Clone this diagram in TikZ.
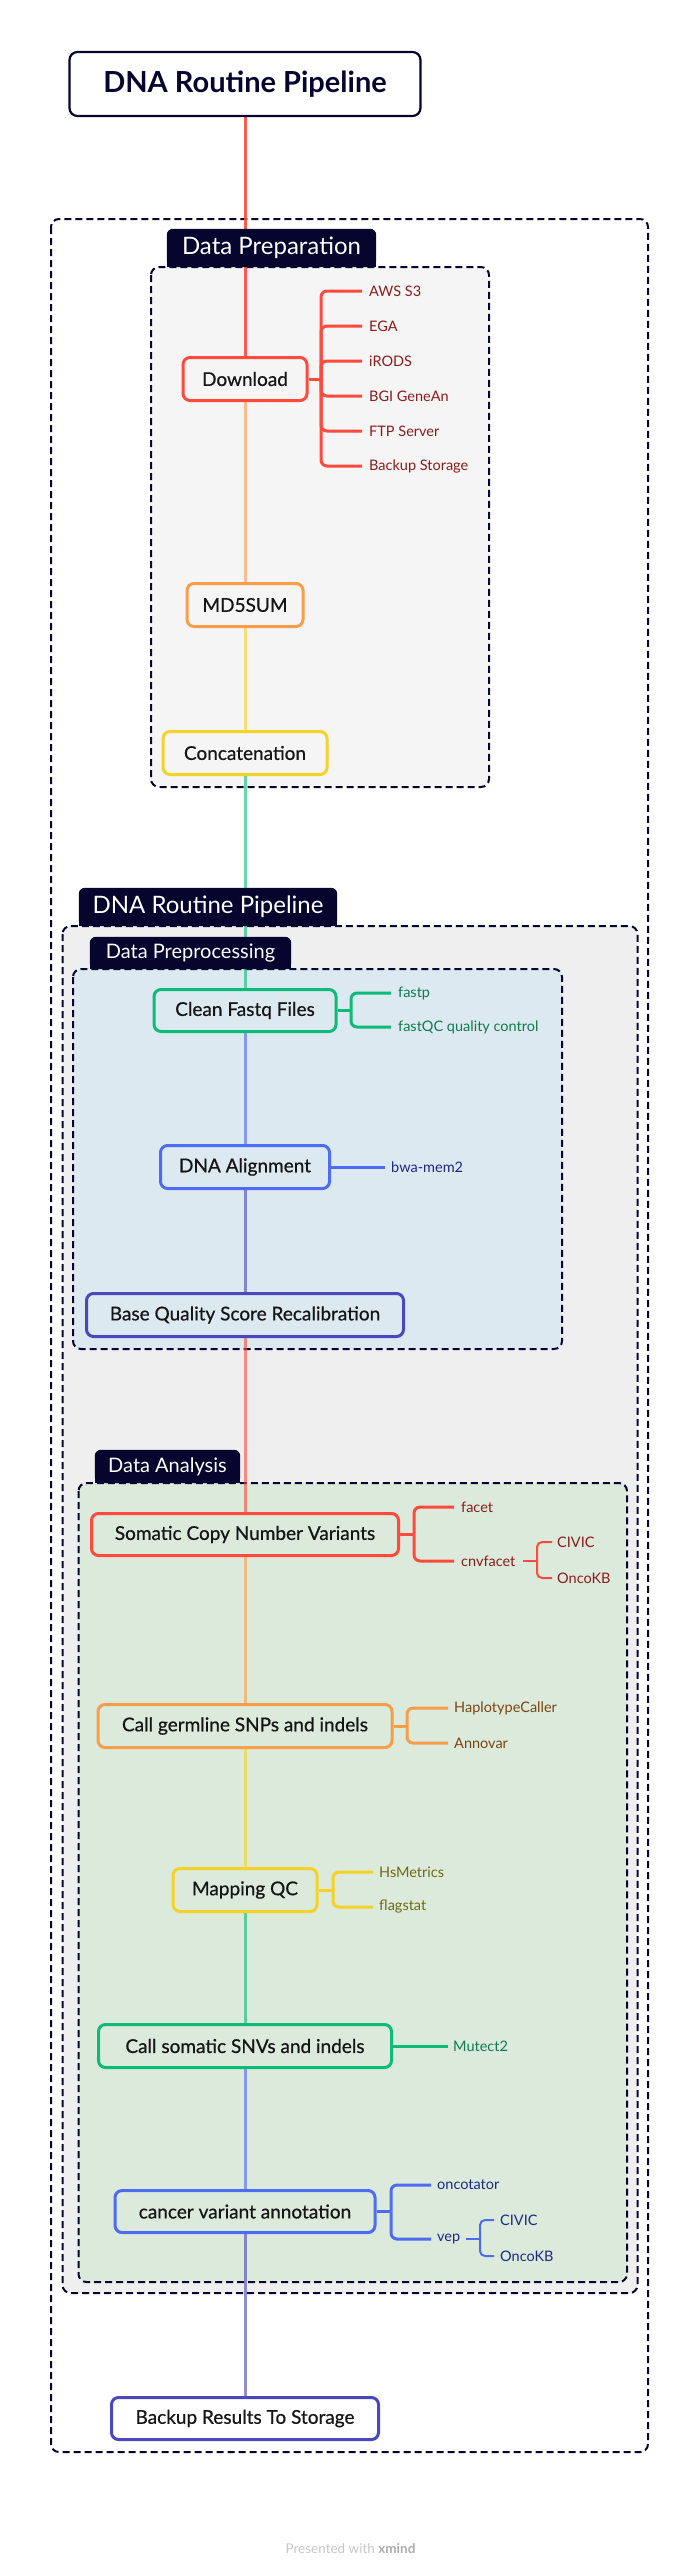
\documentclass[tikz,border=0pt]{standalone}
\usepackage{fontspec}
\setmainfont{Lato}
\newfontfamily\medfont[FakeBold=0.6]{Lato}
\usetikzlibrary{calc}
\pgfdeclarelayer{back}\pgfdeclarelayer{mid}\pgfdeclarelayer{lbl}
\pgfsetlayers{back,mid,lbl,main}
\definecolor{cRed}{HTML}{FF4A3D}
\definecolor{cOrange}{HTML}{F89D4A}
\definecolor{cYellow}{HTML}{F5D226}
\definecolor{cGreen}{HTML}{0DBB78}
\definecolor{cBlue}{HTML}{4D6BF5}
\definecolor{cIndigo}{HTML}{4B48BC}
\definecolor{cNavy}{HTML}{05052E}
\definecolor{tRed}{HTML}{8B1C1C}
\definecolor{tOrange}{HTML}{7A4612}
\definecolor{tYellow}{HTML}{6F6A12}
\definecolor{tGreen}{HTML}{0F7A4E}
\definecolor{tBlue}{HTML}{1C2A86}
\definecolor{fPrep}{HTML}{F5F5F5}
\definecolor{fPipe}{HTML}{EFEFEF}
\definecolor{fPre}{HTML}{DDE9F0}
\definecolor{fAna}{HTML}{DCEADC}
\definecolor{txt}{HTML}{151515}
\tikzset{
  topic/.style={draw, line width=3pt, rounded corners=7pt, text=txt, inner sep=0pt,
    font=\medfont\fontsize{19}{21}\selectfont},
  leaf/.style={anchor=west, inner xsep=7pt, inner ysep=1pt, font=\fontsize{14.5}{16}\selectfont},
  subleaf/.style={anchor=west, inner xsep=5pt, inner ysep=1pt, font=\fontsize{14.5}{16}\selectfont},
  grp/.style={draw=cNavy, line width=2pt, dash pattern=on 7pt off 4pt, rounded corners=8pt},
  lbltext/.style={text=white, inner sep=0pt},
  spine/.style={line width=3pt, opacity=0.62},
  br/.style={line width=3pt, rounded corners=6pt},
  subbr/.style={line width=2pt, rounded corners=5pt}
}
\begin{document}
\begin{tikzpicture}[x=1pt,y=-1pt]
\useasboundingbox (0,0) rectangle (696,2572);
% ---------- group boxes
\begin{pgfonlayer}{back}
\draw[grp] (51,219) rectangle (648,2452);
\draw[grp,fill=fPrep] (151,267) rectangle (489,787);
\draw[grp,fill=fPipe] (62.5,926) rectangle (637.5,2293);
\draw[grp,fill=fPre] (73,969) rectangle (562,1349);
\draw[grp,fill=fAna] (78.5,1483) rectangle (627,2282);
\end{pgfonlayer}
% ---------- group labels
\node[lbltext, minimum width=209pt, minimum height=38pt, font=\fontsize{24}{26}\selectfont] (L1) at (271.5,248) {Data Preparation};
\node[lbltext, minimum width=258pt, minimum height=38pt, font=\fontsize{24}{26}\selectfont] (L2) at (208,907) {DNA Routine Pipeline};
\node[lbltext, minimum width=201pt, minimum height=32pt, font=\fontsize{20}{22}\selectfont] (L3) at (190.5,953) {Data Preprocessing};
\node[lbltext, minimum width=145pt, minimum height=33pt, font=\fontsize{20}{22}\selectfont] (L4) at (167.5,1466.5) {Data Analysis};
\begin{pgfonlayer}{lbl}
\foreach \L in {L1,L2,L3,L4}{
  \fill[cNavy,rounded corners=6pt] (\L.south west) rectangle (\L.north east);
  \fill[cNavy] (\L.south west) rectangle (\L.east);
}
\end{pgfonlayer}
% ---------- main topics
\node[topic, draw=cNavy, line width=2.2pt, rounded corners=8pt, minimum width=351pt, minimum height=64pt,
  font=\fontsize{29}{32}\selectfont\bfseries, text=cNavy] (title) at (245,84) {DNA Routine Pipeline};
\node[topic, draw=cRed,    minimum width=124pt, minimum height=43pt] (dl)   at (245,379)    {Download};
\node[topic, draw=cOrange, minimum width=116pt, minimum height=43pt] (md5)  at (245,605)    {MD5SUM};
\node[topic, draw=cYellow, minimum width=164pt, minimum height=43pt] (cat)  at (245,753)    {Concatenation};
\node[topic, draw=cGreen,  minimum width=182pt, minimum height=42pt] (cf)   at (245,1010.5) {Clean Fastq Files};
\node[topic, draw=cBlue,   minimum width=169pt, minimum height=43pt] (aln)  at (245,1167)   {DNA Alignment};
\node[topic, draw=cIndigo, minimum width=317pt, minimum height=43pt] (bqsr) at (245,1315)   {Base Quality Score Recalibration};
\node[topic, draw=cRed,    minimum width=307pt, minimum height=42pt] (cnv)  at (245,1534.5) {Somatic Copy Number Variants};
\node[topic, draw=cOrange, minimum width=294pt, minimum height=43pt] (germ) at (245,1726)   {Call germline SNPs and indels};
\node[topic, draw=cYellow, minimum width=144pt, minimum height=43pt] (mqc)  at (245,1890)   {Mapping QC};
\node[topic, draw=cGreen,  minimum width=293pt, minimum height=43pt] (snv)  at (245,2046)   {Call somatic SNVs and indels};
\node[topic, draw=cBlue,   minimum width=260pt, minimum height=42pt] (ann)  at (245,2211.5) {cancer variant annotation};
\node[topic, draw=cIndigo, fill=white, minimum width=267pt, minimum height=42pt] (bak) at (245,2418.5) {Backup Results To Storage};
% ---------- spine
\begin{pgfonlayer}{mid}
\draw[spine,cRed,opacity=0.9] (title.south) -- (dl.north);
\draw[spine,cOrange] (dl.south)    -- (md5.north);
\draw[spine,cYellow] (md5.south)   -- (cat.north);
\draw[spine,cGreen]  (cat.south)   -- (cf.north);
\draw[spine,cBlue]   (cf.south)    -- (aln.north);
\draw[spine,cIndigo] (aln.south)   -- (bqsr.north);
\draw[spine,cRed]    (bqsr.south)  -- (cnv.north);
\draw[spine,cOrange] (cnv.south)   -- (germ.north);
\draw[spine,cYellow] (germ.south)  -- (mqc.north);
\draw[spine,cGreen]  (mqc.south)   -- (snv.north);
\draw[spine,cBlue]   (snv.south)   -- (ann.north);
\draw[spine,cIndigo] (ann.south)   -- (bak.north);
\end{pgfonlayer}
% ---------- Download leaves
\coordinate (dlj) at (321,379);
\node[leaf,text=tRed] (dl1) at (362,291) {AWS S3};
\node[leaf,text=tRed] (dl2) at (362,326) {EGA};
\node[leaf,text=tRed] (dl3) at (362,361) {iRODS};
\node[leaf,text=tRed] (dl4) at (362,396) {BGI GeneAn};
\node[leaf,text=tRed] (dl5) at (362,431) {FTP Server};
\node[leaf,text=tRed] (dl6) at (362,466) {Backup Storage};
\draw[br,cRed] (dl.east) -- (dlj);
\foreach \c in {dl1,dl2,dl3,dl4,dl5,dl6}{\draw[br,cRed] (dlj) |- (\c.west);}
% ---------- Clean Fastq leaves
\coordinate (cfj) at (351,1010.5);
\node[leaf,text=tGreen] (cf1) at (391,993) {fastp};
\node[leaf,text=tGreen] (cf2) at (391,1027) {fastQC quality control};
\draw[br,cGreen] (cf.east) -- (cfj);
\foreach \c in {cf1,cf2}{\draw[br,cGreen] (cfj) |- (\c.west);}
% ---------- DNA Alignment leaf
\node[leaf,text=tBlue,inner xsep=6pt] (aln1) at (385,1167) {bwa-mem2};
\draw[br,cBlue] (aln.east) -- (aln1.west);
% ---------- CNV leaves
\coordinate (cnvj) at (414,1534.5);
\node[leaf,text=tRed] (cnv1) at (454,1507) {facet};
\node[leaf,text=tRed] (cnv2) at (454,1561) {cnvfacet};
\draw[br,cRed] (cnv.east) -- (cnvj);
\foreach \c in {cnv1,cnv2}{\draw[br,cRed] (cnvj) |- (\c.west);}
\coordinate (cnv2j) at (537,1561);
\node[subleaf,text=tRed] (cnv2a) at (552,1542) {CIVIC};
\node[subleaf,text=tRed] (cnv2b) at (552,1578) {OncoKB};
\draw[subbr,cRed] (cnv2.east) -- (cnv2j);
\foreach \c in {cnv2a,cnv2b}{\draw[subbr,cRed] (cnv2j) |- (\c.west);}
% ---------- germline leaves
\coordinate (germj) at (407,1726);
\node[leaf,text=tOrange,inner xsep=6pt] (germ1) at (448,1708) {HaplotypeCaller};
\node[leaf,text=tOrange,inner xsep=6pt] (germ2) at (448,1743) {Annovar};
\draw[br,cOrange] (germ.east) -- (germj);
\foreach \c in {germ1,germ2}{\draw[br,cOrange] (germj) |- (\c.west);}
% ---------- Mapping QC leaves
\coordinate (mqcj) at (333,1890);
\node[leaf,text=tYellow,inner xsep=6pt] (mqc1) at (373,1872) {HsMetrics};
\node[leaf,text=tYellow,inner xsep=6pt] (mqc2) at (373,1907) {flagstat};
\draw[br,cYellow] (mqc.east) -- (mqcj);
\foreach \c in {mqc1,mqc2}{\draw[br,cYellow] (mqcj) |- (\c.west);}
% ---------- somatic SNV leaf
\node[leaf,text=tGreen,inner xsep=5pt] (snv1) at (448,2046) {Mutect2};
\draw[br,cGreen] (snv.east) -- (snv1.west);
% ---------- annotation leaves
\coordinate (annj) at (391,2211.5);
\node[leaf,text=tBlue,inner xsep=6pt] (ann1) at (431,2185) {oncotator};
\node[leaf,text=tBlue,inner xsep=6pt] (ann2) at (431,2239) {vep};
\draw[br,cBlue] (ann.east) -- (annj);
\foreach \c in {ann1,ann2}{\draw[br,cBlue] (annj) |- (\c.west);}
\coordinate (ann2j) at (480,2239);
\node[subleaf,text=tBlue,inner xsep=6pt] (ann2a) at (494,2220) {CIVIC};
\node[subleaf,text=tBlue,inner xsep=6pt] (ann2b) at (494,2256) {OncoKB};
\draw[subbr,cBlue] (ann2.east) -- (ann2j);
\foreach \c in {ann2a,ann2b}{\draw[subbr,cBlue] (ann2j) |- (\c.west);}
% ---------- footer
\node[font=\fontsize{13.5}{15}\selectfont, text=black!22] (foot) at (350.5,2549)
  {Presented with \textcolor{black!32}{\textbf{xmind}}};
\end{tikzpicture}
\end{document}
